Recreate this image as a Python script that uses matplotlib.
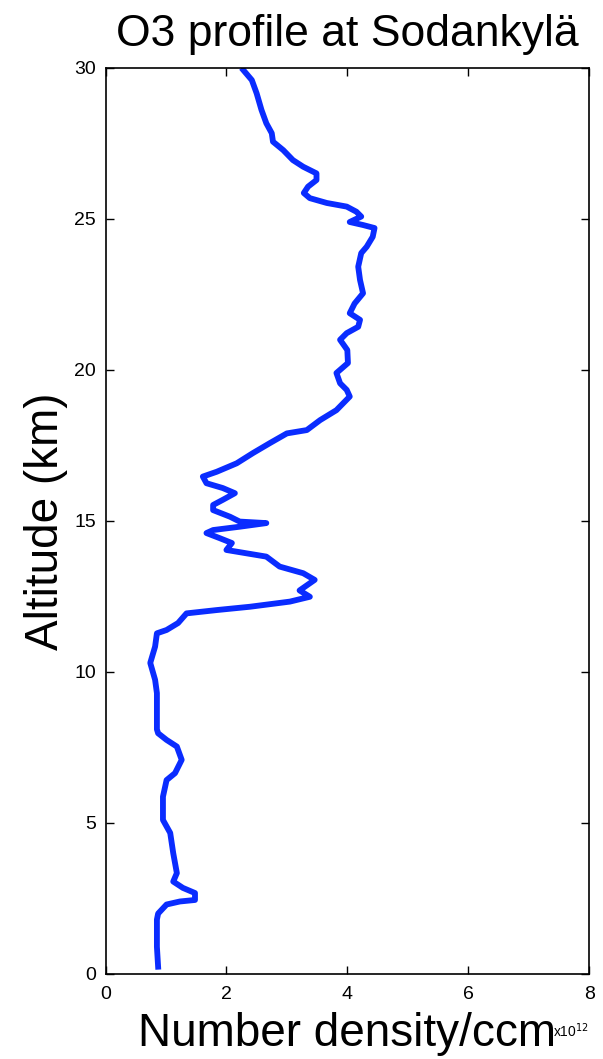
import numpy as np
import matplotlib
matplotlib.use("Agg")
import matplotlib.pyplot as plt

plt.rcParams['font.family'] = ['Liberation Sans', 'DejaVu Sans']

# ozone number density (units of 1e12 per ccm) vs altitude (km)
density = [0.87, 0.85, 0.85, 0.87, 1.01, 1.23, 1.48, 1.48, 1.28, 1.12, 1.18, 1.12,
           1.07, 0.95, 0.95, 1.01, 1.15, 1.26, 1.18, 1.01, 0.87, 0.85, 0.85, 0.82,
           0.74, 0.82, 0.85, 1.01, 1.20, 1.34, 1.84, 2.39, 3.05, 3.38, 3.21, 3.46,
           3.27, 2.88, 2.66, 2.33, 2.00, 2.09, 1.89, 1.67, 1.78, 2.22, 2.66, 2.22,
           2.06, 1.78, 1.78, 1.94, 2.14, 1.94, 1.67, 1.61, 1.84, 2.17, 2.44, 2.72,
           3.00, 3.33, 3.55, 3.82, 4.04, 3.99, 3.88, 3.82, 4.01, 4.00, 3.88, 3.99,
           4.18, 4.21, 4.04, 4.12, 4.26, 4.21, 4.18, 4.23, 4.32, 4.42, 4.45, 4.26,
           4.04, 4.23, 4.15, 3.99, 3.66, 3.38, 3.28, 3.35, 3.49, 3.49, 3.27, 3.10,
           2.94, 2.77, 2.75, 2.66, 2.58, 2.50, 2.42, 2.28]
altitude = [0.24, 0.90, 1.80, 2.00, 2.30, 2.40, 2.45, 2.68, 2.85, 3.06, 3.34, 4.00,
            4.67, 5.10, 5.87, 6.42, 6.65, 7.09, 7.53, 7.75, 7.97, 8.10, 9.30, 9.74,
            10.30, 10.84, 11.28, 11.39, 11.62, 11.94, 12.05, 12.16, 12.33, 12.49, 12.70, 13.05,
            13.27, 13.49, 13.82, 13.93, 14.04, 14.27, 14.43, 14.60, 14.70, 14.81, 14.93, 14.98,
            15.14, 15.36, 15.53, 15.70, 15.92, 16.09, 16.25, 16.47, 16.63, 16.91, 17.25, 17.58,
            17.90, 18.01, 18.34, 18.67, 19.12, 19.34, 19.56, 19.90, 20.23, 20.66, 21.00, 21.22,
            21.43, 21.66, 21.88, 22.20, 22.54, 22.98, 23.42, 23.87, 24.08, 24.41, 24.70, 24.80,
            24.90, 25.08, 25.24, 25.41, 25.53, 25.69, 25.86, 26.07, 26.29, 26.51, 26.73, 26.95,
            27.28, 27.56, 27.84, 28.17, 28.61, 29.16, 29.60, 29.93]

x_ticks = [0, 2, 4, 6, 8]
y_ticks = [0, 5, 10, 15, 20, 25, 30]

fig = plt.figure(figsize=(6.03, 10.59), dpi=100)
ax = fig.add_axes([0.175, 0.0803, 0.802, 0.8555])

ax.plot(density, altitude, color='#0a2cff', linewidth=4.2, solid_joinstyle='round')

ax.set_xlim(0, 8)
ax.set_ylim(0, 30)
ax.set_xticks(x_ticks)
ax.set_yticks(y_ticks)
ax.tick_params(direction='in', top=True, right=True, length=6, width=1,
               labelsize=14)
ax.tick_params(axis='x', pad=9)
ax.tick_params(axis='y', pad=7)
for s in ax.spines.values():
    s.set_linewidth(1.2)

ax.set_title('O3 profile at Sodankylä', fontsize=32, pad=16)
ax.set_xlabel('Number density/ccm', fontsize=33, labelpad=6)
ax.set_ylabel('Altitude (km)', fontsize=33, labelpad=4)
ax.text(1.0, -0.063, r'x10$^{12}$', transform=ax.transAxes, fontsize=10,
        ha='right', va='center')

fig.savefig('out.png', dpi=100)
